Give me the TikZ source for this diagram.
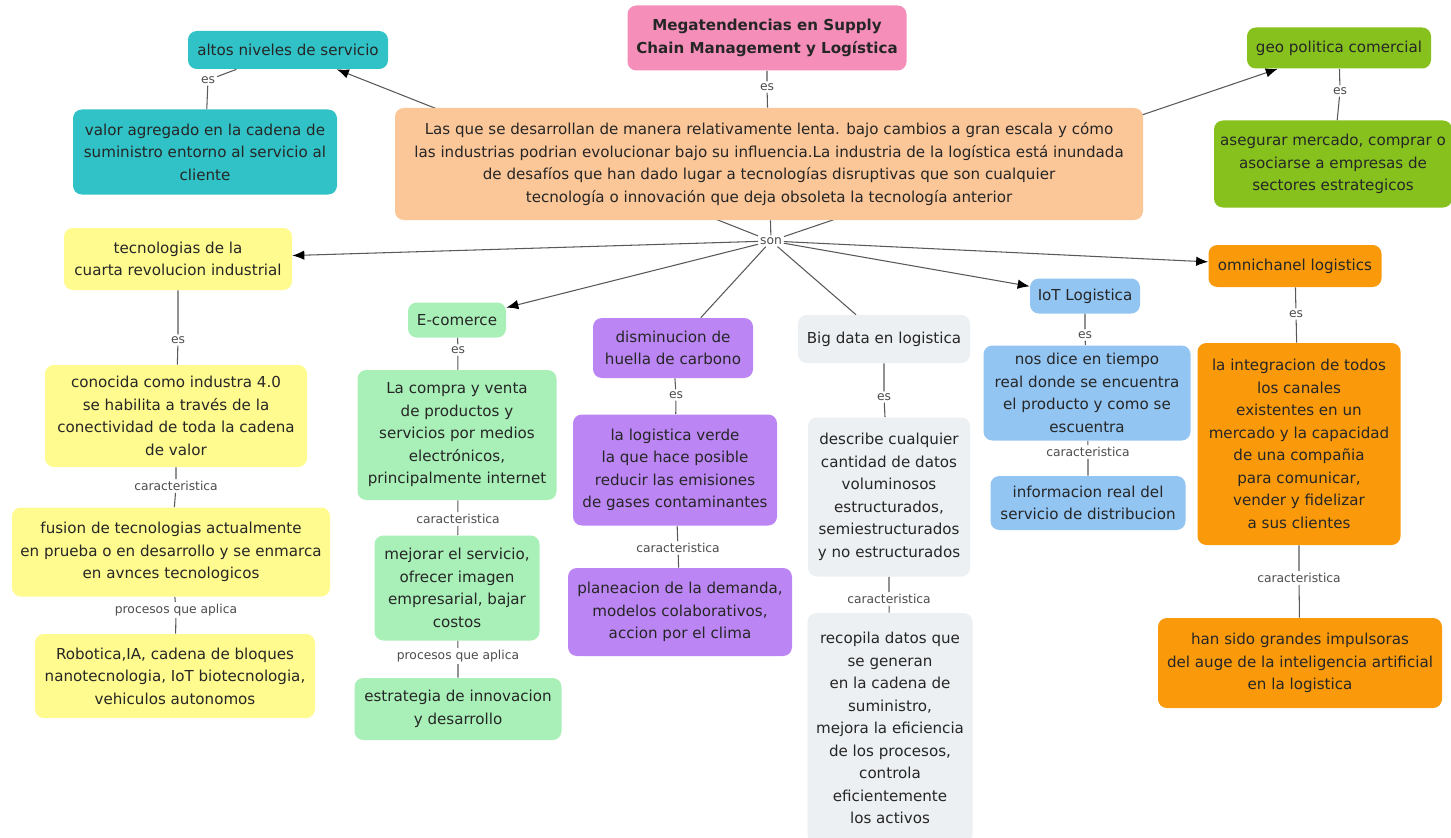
\documentclass[tikz,border=0pt]{standalone}
\usepackage{fontspec}
\setmainfont{DejaVu Sans}
\usepackage{xcolor}
\usepackage{tikz}
\usetikzlibrary{arrows.meta,backgrounds}
\definecolor{rosa}{RGB}{245,143,186}
\definecolor{durazno}{RGB}{251,198,152}
\definecolor{turquesa}{RGB}{48,194,198}
\definecolor{verdelima}{RGB}{134,193,30}
\definecolor{amarillo}{RGB}{255,251,143}
\definecolor{menta}{RGB}{168,240,184}
\definecolor{lila}{RGB}{187,134,244}
\definecolor{grisazul}{RGB}{236,240,242}
\definecolor{celeste}{RGB}{147,197,243}
\definecolor{naranja}{RGB}{250,154,10}
\tikzset{
  concepto/.style={rounded corners=5pt,align=center,inner sep=3pt,text=black!85,
    font=\fontsize{8.6}{12.8}\selectfont},
  caja/.style 2 args={minimum width=#1*0.02cm,minimum height=#2*0.02cm},
  enlace/.style={font=\fontsize{7}{8}\selectfont,text=black!70,inner sep=1pt},
  linea/.style={draw=black!65,line width=0.6pt},
  flecha/.style={linea,-{Latex[length=2.4mm,width=1.9mm,fill=black,color=black]}}
}

\begin{document}
\begin{tikzpicture}[x=0.02cm,y=-0.02cm]
\useasboundingbox (0,0) rectangle (1451,838);
% centro
\node[concepto,caja={279}{65},fill=rosa,font=\bfseries\fontsize{8.6}{12.8}\selectfont] (titulo) at (767,38) {Megatendencias en Supply\\Chain Management y Logística};
\node[enlace] (es0) at (767,87) {es};
\node[concepto,caja={748}{112},fill=durazno] (megat) at (769,164) {Las que se desarrollan de manera relativamente lenta. bajo cambios a gran escala y cómo\\las industrias podrian evolucionar bajo su influencia.La industria de la logística está inundada\\de desafíos que han dado lugar a tecnologías disruptivas que son cualquier\\tecnología o innovación que deja obsoleta la tecnología anterior};
\node[enlace] (son) at (771,241) {son};
% arriba
\node[concepto,caja={200}{38},fill=turquesa] (altos) at (288,50) {altos niveles de servicio};
\node[enlace] (esA) at (208,80) {es};
\node[concepto,caja={264}{85},fill=turquesa] (valor) at (205,152) {valor agregado en la cadena de\\suministro entorno al servicio al\\cliente};
\node[concepto,caja={184}{41},fill=verdelima] (geo) at (1339,48) {geo politica comercial};
\node[enlace] (esG) at (1340,91) {es};
\node[concepto,caja={238}{87},fill=verdelima] (asegurar) at (1333,164) {asegurar mercado, comprar o\\asociarse a empresas de\\sectores estrategicos};
% columna amarilla
\node[concepto,caja={228}{62},fill=amarillo] (tec) at (178,259) {tecnologias de la\\cuarta revolucion industrial};
\node[enlace] (esT) at (178,340) {es};
\node[concepto,caja={262}{102},fill=amarillo] (ind40) at (176,416) {conocida como industra 4.0\\se habilita a través de la\\conectividad de toda la cadena\\de valor};
\node[enlace] (carT) at (176,486) {caracteristica};
\node[concepto,caja={318}{89},fill=amarillo] (fusion) at (171,552) {fusion de tecnologias actualmente\\en prueba o en desarrollo y se enmarca\\en avnces tecnologicos};
\node[enlace] (proT) at (176,610) {procesos que aplica};
\node[concepto,caja={280}{84},fill=amarillo] (robotica) at (175,676) {Robotica,IA, cadena de bloques\\nanotecnologia, IoT biotecnologia,\\vehiculos autonomos};
% columna menta
\node[concepto,caja={98}{35},fill=menta] (ecom) at (457,320) {E-comerce};
\node[enlace] (esE) at (458,350) {es};
\node[concepto,caja={199}{130},fill=menta] (compra) at (457,435) {La compra y venta\\de productos y\\servicios por medios\\electrónicos,\\principalmente internet};
\node[enlace] (carE) at (458,519) {caracteristica};
\node[concepto,caja={165}{105},fill=menta] (mejorar) at (457,588) {mejorar el servicio,\\ofrecer imagen\\empresarial, bajar\\costos};
\node[enlace] (proE) at (458,656) {procesos que aplica};
\node[concepto,caja={207}{62},fill=menta] (estrategia) at (458,709) {estrategia de innovacion\\y desarrollo};
% columna lila
\node[concepto,caja={160}{60},fill=lila] (huella) at (673,348) {disminucion de\\huella de carbono};
\node[enlace] (esH) at (676,395) {es};
\node[concepto,caja={204}{111},fill=lila] (verde) at (675,470) {la logistica verde\\la que hace posible\\reducir las emisiones\\de gases contaminantes};
\node[enlace] (carH) at (678,548) {caracteristica};
\node[concepto,caja={224}{88},fill=lila] (planeacion) at (680,612) {planeacion de la demanda,\\modelos colaborativos,\\accion por el clima};
% columna gris
\node[concepto,caja={172}{48},fill=grisazul] (bigdata) at (884,339) {Big data en logistica};
\node[enlace] (esB) at (884,397) {es};
\node[concepto,caja={162}{159},fill=grisazul] (describe) at (889,497) {describe cualquier\\cantidad de datos\\voluminosos\\estructurados,\\semiestructurados\\y no estructurados};
\node[enlace] (carB) at (889,599) {caracteristica};
\node[concepto,caja={165}{230},fill=grisazul] (recopila) at (890,728) {recopila datos que\\se generan\\en la cadena de\\suministro,\\mejora la eficiencia\\de los procesos,\\controla\\eficientemente\\los activos};
% columna celeste
\node[concepto,caja={110}{35},fill=celeste] (iot) at (1085,296) {IoT Logistica};
\node[enlace] (esI) at (1085,335) {es};
\node[concepto,caja={207}{95},fill=celeste] (dice) at (1087,393) {nos dice en tiempo\\real donde se encuentra\\el producto y como se\\escuentra};
\node[enlace] (carI) at (1088,452) {caracteristica};
\node[concepto,caja={195}{54},fill=celeste] (informacion) at (1088,503) {informacion real del\\servicio de distribucion};
% columna naranja
\node[concepto,caja={173}{42},fill=naranja] (omni) at (1295,266) {omnichanel logistics};
\node[enlace] (esO) at (1296,314) {es};
\node[concepto,caja={203}{202},fill=naranja] (integracion) at (1299,444) {la integracion de todos\\los canales\\existentes en un\\mercado y la capacidad\\de una compañia\\para comunicar,\\vender y fidelizar\\a sus clientes};
\node[enlace] (carO) at (1299,578) {caracteristica};
\node[concepto,caja={284}{90},fill=naranja] (impulsoras) at (1300,663) {han sido grandes impulsoras\\del auge de la inteligencia artificial\\en la logistica};
% enlaces
\draw[linea] (titulo) -- (es0) -- (megat);
\draw[linea] (megat) -- (son);
\draw[flecha] (son) -- (tec);
\draw[flecha] (son) -- (ecom);
\draw[linea] (son) -- (huella);
\draw[linea] (son) -- (bigdata);
\draw[flecha] (son) -- (iot);
\draw[flecha] (son) -- (omni);
\draw[linea] (altos) -- (esA) -- (valor);
\draw[linea] (geo) -- (esG) -- (asegurar);
\draw[linea] (tec) -- (esT) -- (ind40);
\draw[linea] (ind40) -- (carT) -- (fusion);
\draw[linea] (fusion) -- (proT) -- (robotica);
\draw[linea] (ecom) -- (esE) -- (compra);
\draw[linea] (compra) -- (carE) -- (mejorar);
\draw[linea] (mejorar) -- (proE) -- (estrategia);
\draw[linea] (huella) -- (esH) -- (verde);
\draw[linea] (verde) -- (carH) -- (planeacion);
\draw[linea] (bigdata) -- (esB) -- (describe);
\draw[linea] (describe) -- (carB) -- (recopila);
\draw[linea] (iot) -- (esI) -- (dice);
\draw[linea] (dice) -- (carI) -- (informacion);
\draw[linea] (omni) -- (esO) -- (integracion);
\draw[linea] (integracion) -- (carO) -- (impulsoras);
\begin{pgfonlayer}{background}
\fill[white] (0,0) rectangle (1451,838);
\draw[flecha] (son) -- (altos);
\draw[flecha] (son) -- (geo);
\end{pgfonlayer}
\end{tikzpicture}
\end{document}
